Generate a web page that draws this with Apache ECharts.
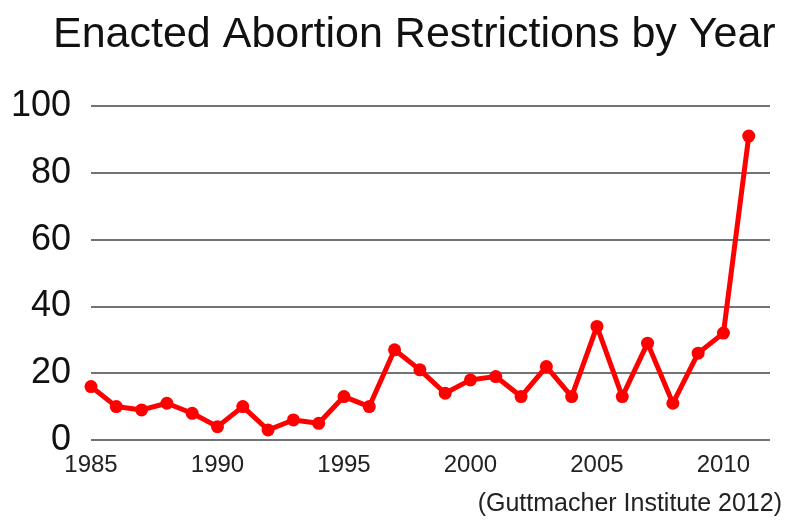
<!DOCTYPE html>
<html>
<head>
<meta charset="utf-8">
<script src="https://cdn.jsdelivr.net/npm/echarts@6/dist/echarts.min.js"></script>
<style>
html,body{margin:0;padding:0;background:#ffffff;}
#chart{width:801px;height:529px;}
</style>
</head>
<body>
<div id="chart"></div>
<script>
var titleText = 'Enacted Abortion Restrictions by Year';
var sourceText = '(Guttmacher Institute 2012)';
var years = [1985,1986,1987,1988,1989,1990,1991,1992,1993,1994,1995,1996,1997,1998,1999,2000,2001,2002,2003,2004,2005,2006,2007,2008,2009,2010,2011];
var restrictions = [16,10,9,11,8,4,10,3,6,5,13,10,27,21,14,18,19,13,22,13,34,13,29,11,26,32,91];
var yTicks = [0,20,40,60,80,100];
var xTicks = [1985,1990,1995,2000,2005,2010];

var seriesData = years.map(function(y, i){ return [y, restrictions[i]]; });
var font = '"Liberation Sans", Arial, Helvetica, sans-serif';

var chart = echarts.init(document.getElementById('chart'), null, {renderer:'canvas'});
chart.setOption({
  backgroundColor: '#ffffff',
  animation: false,
  title: {
    text: titleText,
    left: 48,
    top: 9,
    textStyle: {fontFamily: font, fontSize: 43, fontWeight: 'normal', color: '#111111'}
  },
  graphic: [{
    type: 'text',
    right: 19,
    top: 492,
    style: {text: sourceText, font: '25px ' + font, fill: '#222222'}
  }],
  grid: {left: 91, right: 31, top: 106, bottom: 89},
  xAxis: {
    type: 'value',
    min: 1985,
    max: 2011.84,
    interval: 5,
    axisLine: {show: false},
    axisTick: {show: false},
    splitLine: {show: false},
    axisLabel: {
      showMaxLabel: false,
      margin: 13,
      fontFamily: font,
      fontSize: 24,
      color: '#222222',
      formatter: function(v){ return xTicks.indexOf(v) >= 0 ? String(v) : ''; }
    }
  },
  yAxis: {
    type: 'value',
    min: 0,
    max: 100,
    interval: 20,
    axisLine: {show: false},
    axisTick: {show: false},
    splitLine: {lineStyle: {color: '#444444', width: 1.6}},
    axisLabel: {
      margin: 20,
      fontFamily: font,
      fontSize: 36,
      color: '#111111',
      formatter: function(v){ return yTicks.indexOf(v) >= 0 ? String(v) : ''; }
    }
  },
  series: [{
    type: 'line',
    data: seriesData,
    lineStyle: {color: '#ff0000', width: 5},
    itemStyle: {color: '#ff0000'},
    symbol: 'circle',
    symbolSize: 13,
    z: 5
  }]
});
</script>
</body>
</html>
